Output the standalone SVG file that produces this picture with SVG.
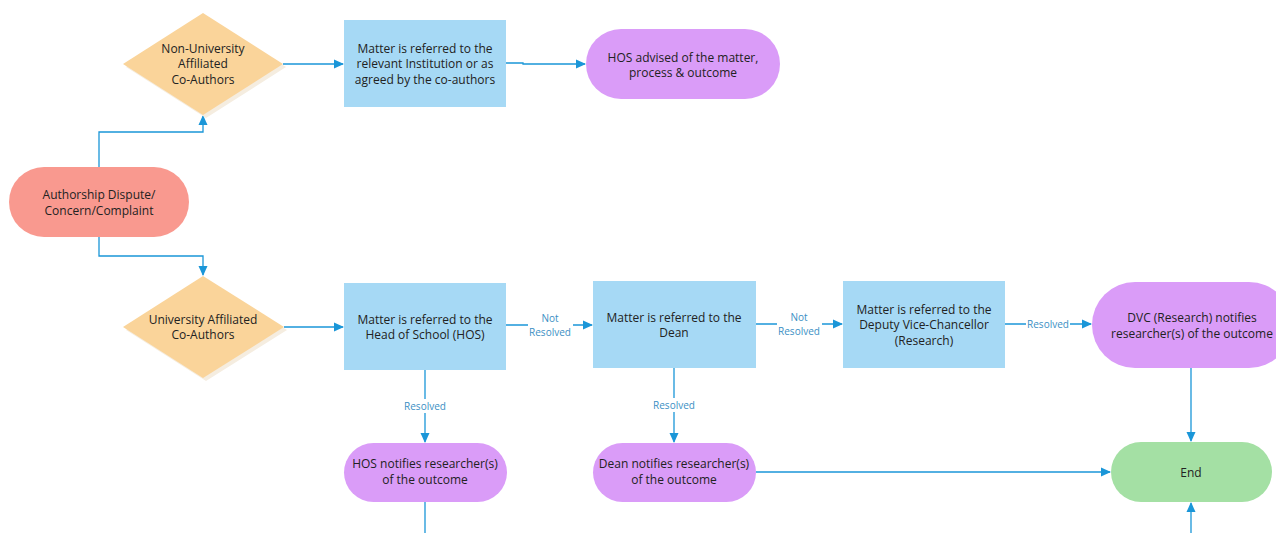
<svg xmlns="http://www.w3.org/2000/svg" width="1276" height="533" viewBox="0 0 1276 533">
<style>
.t{font-family:"Open Sans","Noto Sans","Liberation Sans",sans-serif;font-size:12px;fill:#222;text-anchor:middle;dominant-baseline:central}
.l{font-family:"Open Sans","Noto Sans","Liberation Sans",sans-serif;font-size:10px;fill:#3b8fc4;text-anchor:middle;dominant-baseline:central}
.c{fill:none;stroke:#1a96d8;stroke-width:1.3}
.dia{fill:#fad49a}
.sh{fill:#f5ede0}
.box{fill:#a6d9f5}
.pur{fill:#da9cf8}
</style>
<defs>
<marker id="a" markerWidth="10" markerHeight="10" refX="9" refY="5" orient="auto" markerUnits="userSpaceOnUse">
<path d="M0,0.5 L10,5 L0,9.5 Z" fill="#1a96d8"/>
</marker>
</defs>
<rect width="1276" height="533" fill="#fff"/>
<g id="connectors">
<path class="c" d="M99,167 V132 H203 V116" marker-end="url(#a)"/>
<path class="c" d="M99,237 V256 H203 V275" marker-end="url(#a)"/>
<path class="c" d="M283,64 H343" marker-end="url(#a)"/>
<path class="c" d="M506,63 H523 V64 H585" marker-end="url(#a)"/>
<path class="c" d="M284,327 H343" marker-end="url(#a)"/>
<path class="c" d="M506,325 H592" marker-end="url(#a)"/>
<path class="c" d="M756,324 H842" marker-end="url(#a)"/>
<path class="c" d="M1005,324 H1091" marker-end="url(#a)"/>
<path class="c" d="M425,370 V442" marker-end="url(#a)"/>
<path class="c" d="M674,368 V442" marker-end="url(#a)"/>
<path class="c" d="M1191,368 V441" marker-end="url(#a)"/>
<path class="c" d="M756,472 H1110" marker-end="url(#a)"/>
<path class="c" d="M425,502 V533"/>
<path class="c" d="M1191,533 V503" marker-end="url(#a)"/>
<rect x="528" y="310" width="45" height="30" fill="#fff"/>
<text class="l" x="550" y="318">Not</text>
<text class="l" x="550" y="332">Resolved</text>
<rect x="777" y="309" width="45" height="30" fill="#fff"/>
<text class="l" x="799" y="317">Not</text>
<text class="l" x="799" y="331">Resolved</text>
<rect x="1026" y="318" width="44" height="12" fill="#fff"/>
<text class="l" x="1048" y="324">Resolved</text>
<rect x="402" y="399" width="46" height="14" fill="#fff"/>
<text class="l" x="425" y="406">Resolved</text>
<rect x="651" y="398" width="46" height="14" fill="#fff"/>
<text class="l" x="674" y="405">Resolved</text>
</g>
<g id="start">
<rect x="9" y="167" width="180" height="70" rx="35" fill="#f9998f"/>
<text class="t" x="99" y="194">Authorship Dispute/</text>
<text class="t" x="99" y="210">Concern/Complaint</text>
</g>
<g id="nonuni">
<polygon class="sh" points="206,16 286,67 206,118 126,67"/>
<polygon class="dia" points="203,13 283,64 203,115 123,64"/>
<text class="t" x="203" y="48">Non-University</text>
<text class="t" x="203" y="63">Affiliated</text>
<text class="t" x="203" y="79">Co-Authors</text>
</g>
<g id="institution">
<rect class="box" x="344" y="20" width="162" height="87"/>
<text class="t" x="425" y="48">Matter is referred to the</text>
<text class="t" x="425" y="63">relevant Institution or as</text>
<text class="t" x="425" y="79">agreed by the co-authors</text>
</g>
<g id="hosadvised">
<rect class="pur" x="586" y="29" width="194" height="70" rx="35"/>
<text class="t" x="683" y="57">HOS advised of the matter,</text>
<text class="t" x="683" y="72">process &amp; outcome</text>
</g>
<g id="uni">
<polygon class="sh" points="206,279 287,330 206,381 126,330"/>
<polygon class="dia" points="203,276 284,327 203,378 123,327"/>
<text class="t" x="203" y="319">University Affiliated</text>
<text class="t" x="203" y="334">Co-Authors</text>
</g>
<g id="hos">
<rect class="box" x="344" y="283" width="162" height="87"/>
<text class="t" x="425" y="319">Matter is referred to the</text>
<text class="t" x="425" y="334">Head of School (HOS)</text>
</g>
<g id="dean">
<rect class="box" x="593" y="281" width="163" height="87"/>
<text class="t" x="674" y="317">Matter is referred to the</text>
<text class="t" x="674" y="332">Dean</text>
</g>
<g id="dvc">
<rect class="box" x="843" y="281" width="162" height="87"/>
<text class="t" x="924" y="309">Matter is referred to the</text>
<text class="t" x="924" y="324">Deputy Vice-Chancellor</text>
<text class="t" x="924" y="340">(Research)</text>
</g>
<g id="dvcnotify">
<rect class="pur" x="1092" y="282" width="200" height="86" rx="43"/>
<text class="t" x="1192" y="317">DVC (Research) notifies</text>
<text class="t" x="1192" y="333">researcher(s) of the outcome</text>
</g>
<g id="hosnotify">
<rect class="pur" x="344" y="443" width="163" height="59" rx="29.5"/>
<text class="t" x="425" y="463">HOS notifies researcher(s)</text>
<text class="t" x="425" y="479">of the outcome</text>
</g>
<g id="deannotify">
<rect class="pur" x="593" y="443" width="163" height="59" rx="29.5"/>
<text class="t" x="674" y="463">Dean notifies researcher(s)</text>
<text class="t" x="674" y="479">of the outcome</text>
</g>
<g id="end">
<rect x="1111" y="442" width="161" height="60" rx="30" fill="#a4e0a4"/>
<text class="t" x="1191" y="472">End</text>
</g>
</svg>
